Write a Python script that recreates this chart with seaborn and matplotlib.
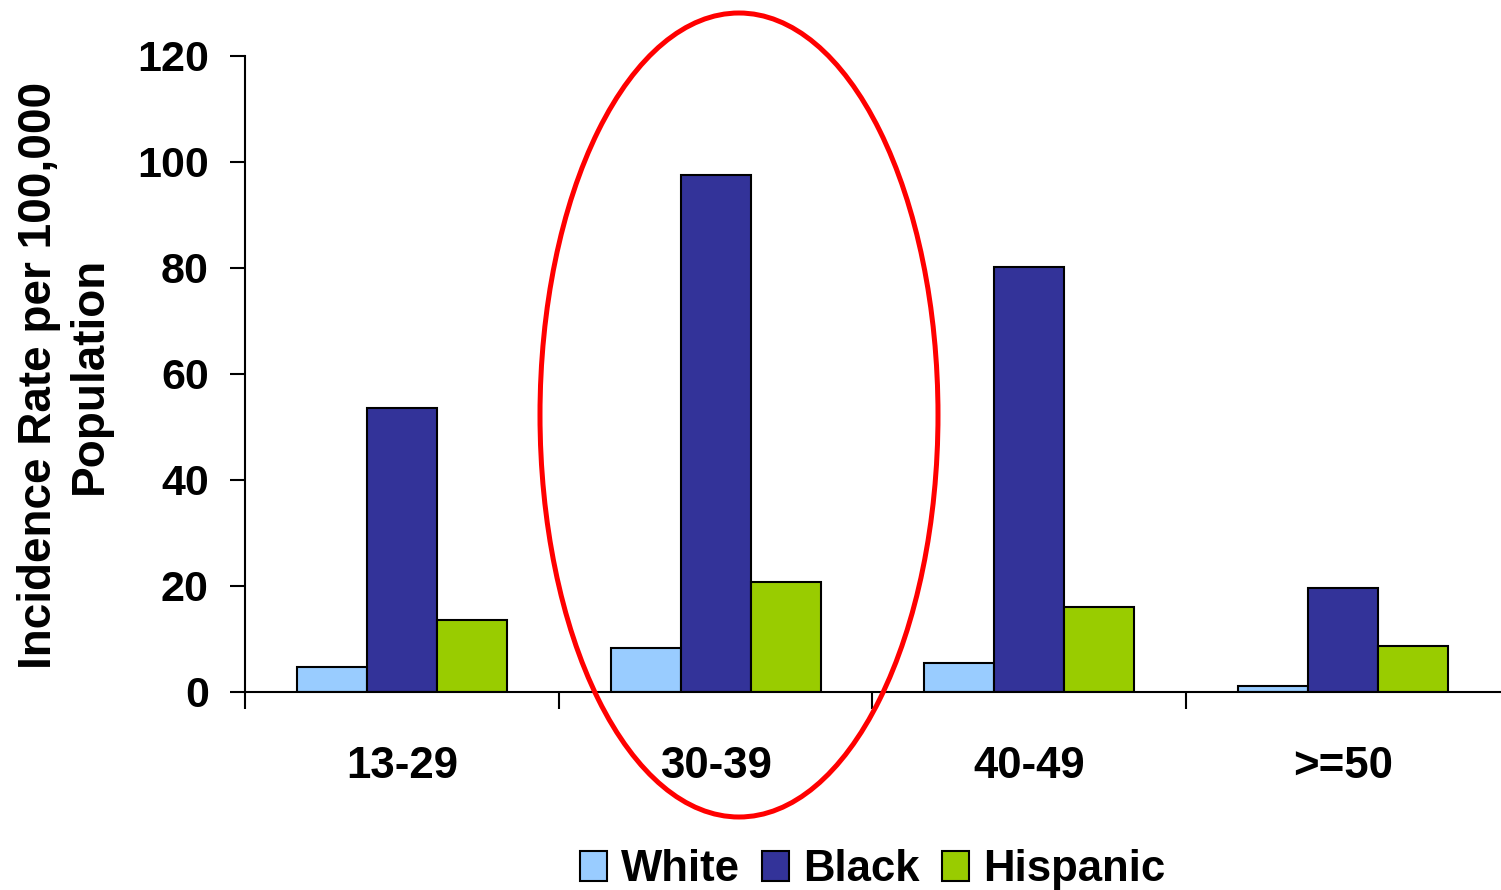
import matplotlib
matplotlib.use("Agg")
import matplotlib.pyplot as plt
from matplotlib.patches import Ellipse
import seaborn as sns
import pandas as pd

# Age groups and incidence rates per 100,000 by race/ethnicity
age_groups = ["13-29", "30-39", "40-49", ">=50"]
groups = ["White", "Black", "Hispanic"]
white = [4.8, 8.3, 5.5, 1.2]
black = [53.5, 97.6, 80.1, 19.6]
hispanic = [13.5, 20.7, 16.1, 8.7]
y_ticks = [0, 20, 40, 60, 80, 100, 120]

colors = {"White": "#99CCFF", "Black": "#333399", "Hispanic": "#99CC00"}

df = pd.DataFrame({
    "age": age_groups * 3,
    "group": [g for g in groups for _ in age_groups],
    "rate": white + black + hispanic,
})

sns.set_style("white")
plt.rcParams["font.family"] = ["Liberation Sans", "DejaVu Sans"]
plt.rcParams["font.weight"] = "bold"
plt.rcParams["text.color"] = "black"
plt.rcParams["xtick.color"] = "black"
plt.rcParams["ytick.color"] = "black"
plt.rcParams["axes.labelcolor"] = "black"

fig = plt.figure(figsize=(15.01, 8.90), dpi=100)
ax = fig.add_axes([0.1632, 0.2225, 0.8361, 0.7146])

sns.barplot(data=df, x="age", y="rate", hue="group", order=age_groups,
            hue_order=groups, palette=colors, width=0.669,
            edgecolor="black", linewidth=1.5, saturation=1, ax=ax)

ax.set_xlim(-0.5, 3.5)
ax.set_ylim(0, 120)
ax.set_yticks(y_ticks)
ax.set_xlabel("")
ax.set_ylabel("")

for side in ["top", "right"]:
    ax.spines[side].set_visible(False)
for side in ["left", "bottom"]:
    ax.spines[side].set_color("black")
    ax.spines[side].set_linewidth(1.5)

ax.tick_params(axis="y", which="major", length=11, width=1.5, color="black",
               direction="out", labelsize=31, pad=15, left=True,
               labelcolor="black")
ax.tick_params(axis="x", which="major", length=0, labelsize=31.5, pad=39,
               labelcolor="black")
ax.set_xticks([-0.5, 0.5, 1.5, 2.5], minor=True)
ax.tick_params(axis="x", which="minor", length=12, width=1.5, color="black",
               direction="out", bottom=True)
for lbl in ax.get_xticklabels() + ax.get_yticklabels():
    lbl.set_fontweight("bold")

fig.text(64.5 / 1501, 1 - 375 / 890, "Incidence Rate per 100,000\nPopulation",
         rotation=90, ha="center", va="center", fontsize=33,
         fontweight="bold", linespacing=1.2, color="black")

leg = ax.legend(loc="upper center", bbox_to_anchor=(0.5, -0.22), ncol=3,
                frameon=False, fontsize=31.5, handlelength=0.62,
                handleheight=0.7, handletextpad=0.32, columnspacing=0.5,
                borderaxespad=0)
for t in leg.get_texts():
    t.set_fontweight("bold")
    t.set_color("black")

# Red ellipse highlighting the 30-39 age group
ell = Ellipse((739 / 1501, 1 - 415 / 890), 398 / 1501, 804 / 890,
              transform=fig.transFigure, fill=False, edgecolor="#FF0000",
              linewidth=3.6, zorder=10)
fig.patches.append(ell)

fig.savefig("out.png", dpi=100)
